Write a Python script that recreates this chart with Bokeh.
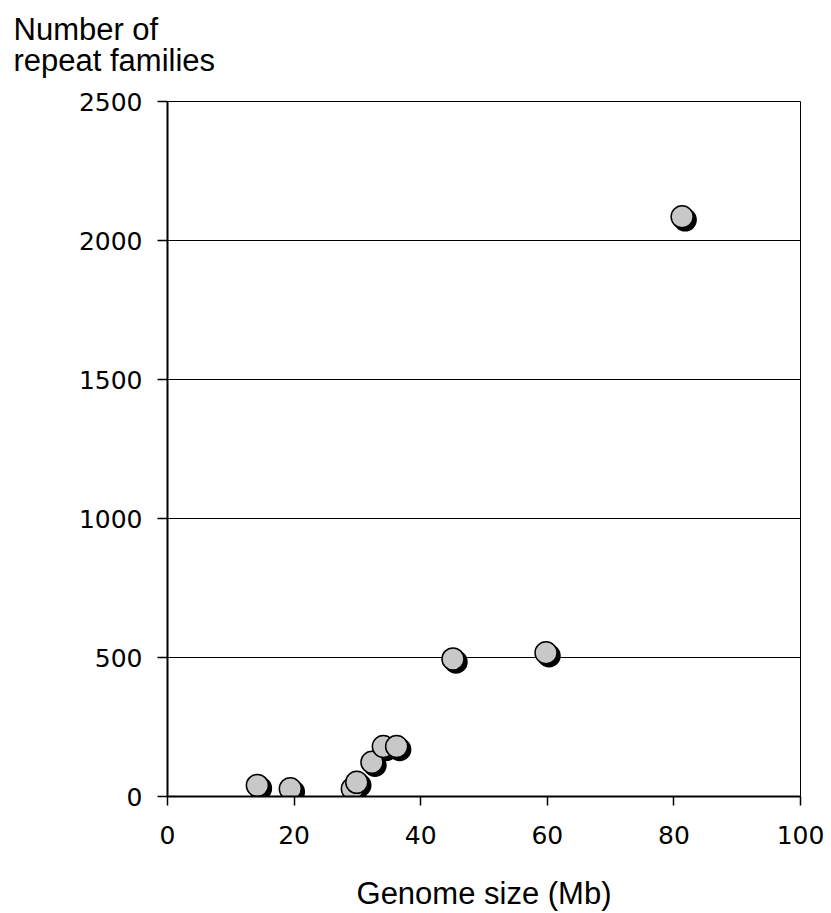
from bokeh.plotting import figure
from bokeh.models import Range1d, FixedTicker, Title, LinearAxis
from bokeh.embed import file_html
from bokeh.resources import INLINE

# data
genome_size_mb = [14.2, 19.4, 29.2, 29.9, 32.3, 34.1, 36.2, 45.1, 59.8, 81.3]
repeat_families = [40, 28, 28, 51, 123, 180, 180, 495, 517, 2085]
x_ticks = [0, 20, 40, 60, 80, 100]
y_ticks = [0, 500, 1000, 1500, 2000, 2500]
x_title = "Genome size (Mb)"
y_title_lines = ["Number of", "repeat families"]

W, H = 831, 913
ML, MR, MT, MB = 167, 31, 101, 117
frame_w = W - ML - MR
frame_h = H - MT - MB

p = figure(width=W, height=H, output_backend="svg", toolbar_location=None,
           x_range=Range1d(0, 100), y_range=Range1d(0, 2500),
           min_border_left=ML, min_border_right=MR, min_border_top=MT, min_border_bottom=MB)
p.background_fill_color = "white"
p.border_fill_color = "white"
p.outline_line_color = "black"
p.outline_line_width = 1

# axes
for ax in (p.xaxis[0], p.yaxis[0]):
    ax.axis_line_color = "black"
    ax.axis_line_width = 2
    ax.major_tick_line_color = "black"
    ax.major_tick_line_width = 1.5
    ax.major_tick_in = 0
    ax.minor_tick_line_color = None
    ax.major_label_text_font = "DejaVu Sans"
    ax.major_label_text_font_size = "25px"
    ax.major_label_text_color = "black"
p.xaxis.ticker = FixedTicker(ticks=x_ticks)
p.yaxis.ticker = FixedTicker(ticks=y_ticks)
p.xaxis.major_tick_out = 9
p.yaxis.major_tick_out = 10
p.xaxis.major_label_standoff = 20
p.yaxis.major_label_standoff = 15

p.xgrid.grid_line_color = None
p.ygrid.grid_line_color = "black"
p.ygrid.grid_line_width = 1

# markers with drop shadow (shadow offset 3px right/down, converted to data units)
sx = 3 * (100 - 0) / frame_w
sy = 3 * (2500 - 0) / frame_h
p.scatter([v + sx for v in genome_size_mb], [v - sy for v in repeat_families],
          size=22, fill_color="black", line_color="black", line_width=1.5)
p.scatter(genome_size_mb, repeat_families, size=22, fill_color="#c8c8c8",
          line_color="black", line_width=1.5)

# y title (two lines, above the plot)
title_font = "Liberation Sans"
t_line2 = Title(text=y_title_lines[1], align="left", offset=13 - ML, standoff=48,
                text_font=title_font, text_font_size="31px", text_font_style="normal",
                text_color="black")
t_line1 = Title(text=y_title_lines[0], align="left", offset=13 - ML, standoff=-61,
                text_font=title_font, text_font_size="31px", text_font_style="normal",
                text_color="black")
p.add_layout(t_line2, "above")
p.add_layout(t_line1, "above")

# x title as the label of a bare second axis below
title_axis = LinearAxis(ticker=FixedTicker(ticks=[]), axis_line_color=None,
                        major_tick_line_color=None, minor_tick_line_color=None,
                        axis_label=x_title, axis_label_standoff=29,
                        axis_label_text_font=title_font, axis_label_text_font_size="31px",
                        axis_label_text_font_style="normal", axis_label_text_color="black")
p.add_layout(title_axis, "below")

open("out.html", "w").write(file_html(p, INLINE))
